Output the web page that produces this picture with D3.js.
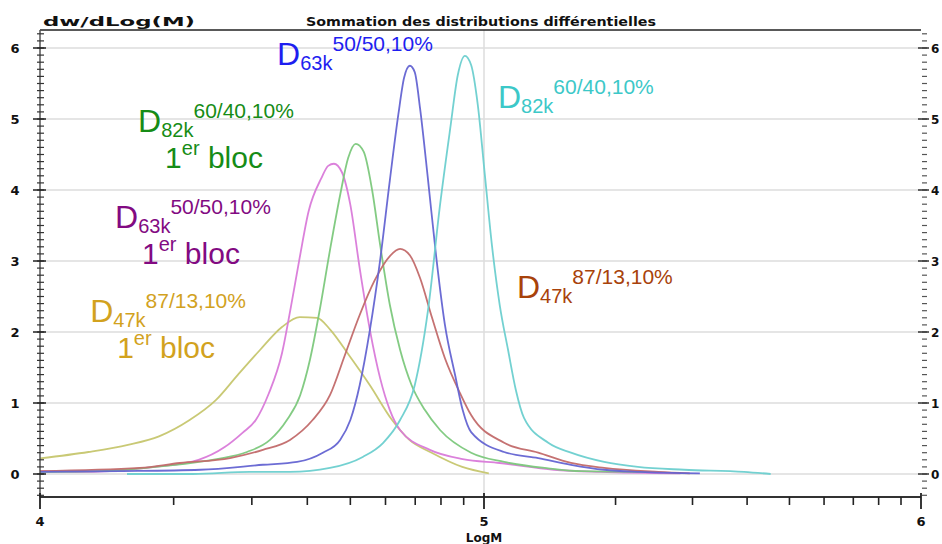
<!DOCTYPE html>
<html><head><meta charset="utf-8">
<script src="https://cdn.jsdelivr.net/npm/d3@7"></script>
<style>html,body{margin:0;padding:0;background:#fff;overflow:hidden}svg{display:block}</style>
</head><body><svg id="c" width="942" height="544"></svg>
<script>
// ---- data (x = log10 M, y = dw/dLogM) ----
const yTicks = [0,1,2,3,4,5,6];
const yTickLabels = ["0","1","2","3","4","5","6"];
const xTicks = [4,5,6];
const xTickLabels = ["4","5","6"];
const titleLeft = "dw/dLog(M)";
const titleCenter = "Sommation des distributions différentielles";
const xTitle = "LogM";

const oliveX = [4.000,4.109,4.198,4.268,4.337,4.396,4.446,4.496,4.545,4.585,4.624,4.654,4.694,4.743,4.793,4.832,4.882,4.951,5.011];
const oliveY = [0.22,0.31,0.41,0.53,0.76,1.04,1.40,1.75,2.07,2.21,2.20,2.03,1.69,1.25,0.76,0.48,0.30,0.10,0.01];
const magentaX = [4.000,4.099,4.198,4.258,4.357,4.416,4.456,4.486,4.515,4.545,4.565,4.585,4.605,4.634,4.649,4.662,4.680,4.699,4.720,4.743,4.766,4.788,4.811,4.878,4.952,5.036,5.160,5.266,5.449];
const magentaY = [0.04,0.03,0.06,0.10,0.20,0.38,0.58,0.76,1.13,1.70,2.35,3.05,3.70,4.17,4.34,4.37,4.25,3.79,2.90,2.03,1.35,0.90,0.62,0.34,0.21,0.155,0.06,0.03,0.01];
const greenX = [4.000,4.135,4.277,4.398,4.466,4.518,4.556,4.586,4.608,4.630,4.653,4.676,4.694,4.711,4.729,4.748,4.766,4.788,4.811,4.837,4.867,4.901,4.971,5.046,5.147,5.222,5.379];
const greenY = [0.03,0.04,0.11,0.21,0.31,0.48,0.76,1.11,1.61,2.31,3.15,3.93,4.45,4.65,4.54,4.00,3.23,2.38,1.75,1.25,0.90,0.62,0.30,0.17,0.08,0.04,0.03];
const redX = [4.000,4.225,4.315,4.428,4.502,4.563,4.614,4.653,4.687,4.720,4.754,4.788,4.811,4.833,4.856,4.883,4.912,4.946,4.971,5.046,5.124,5.199,5.275,5.399,5.471];
const redY = [0.04,0.085,0.155,0.225,0.34,0.48,0.76,1.11,1.68,2.24,2.73,3.07,3.17,3.08,2.76,2.20,1.63,1.14,0.83,0.44,0.30,0.155,0.085,0.03,0.01];
const blueX = [4.000,4.180,4.361,4.502,4.579,4.637,4.676,4.699,4.720,4.743,4.766,4.788,4.807,4.820,4.833,4.844,4.856,4.874,4.892,4.912,4.935,4.952,4.971,5.046,5.124,5.199,5.275,5.357,5.494];
const blueY = [0.03,0.04,0.06,0.13,0.17,0.30,0.48,0.76,1.25,2.03,3.01,4.14,5.06,5.58,5.75,5.66,5.15,4.14,3.08,2.10,1.39,0.90,0.59,0.31,0.225,0.13,0.06,0.03,0.01];
const cyanX = [4.196,4.345,4.473,4.563,4.653,4.727,4.773,4.811,4.844,4.874,4.901,4.924,4.941,4.957,4.971,4.986,5.002,5.018,5.036,5.055,5.073,5.0915,5.147,5.199,5.275,5.352,5.458,5.595,5.656];
const cyanY = [0.00,0.00,0.03,0.03,0.085,0.24,0.44,0.76,1.25,2.31,3.79,4.87,5.62,5.89,5.76,5.20,4.21,3.23,2.38,1.75,1.18,0.79,0.44,0.30,0.17,0.10,0.06,0.03,0.00];

const series = [
  {name:"D47k 1er bloc", x:oliveX, y:oliveY, color:"#c6c66e"},
  {name:"D63k 1er bloc", x:magentaX, y:magentaY, color:"#d97ad9"},
  {name:"D82k 1er bloc", x:greenX, y:greenY, color:"#7cc87c"},
  {name:"D47k 87/13", x:redX, y:redY, color:"#c26a6a"},
  {name:"D63k 50/50", x:blueX, y:blueY, color:"#6464d2"},
  {name:"D82k 60/40", x:cyanX, y:cyanY, color:"#6ccfcf"}
];

// annotation anchors in data units
const annX = [4.534, 5.032, 4.221, 4.169, 5.0755, 4.113];
const annY = [5.76, 5.155, 4.817, 3.465, 2.479, 2.141];
const annSub = ["63k","82k","82k","63k","47k","47k"];
const annSup = ["50/50,10%","60/40,10%","60/40,10%","50/50,10%","87/13,10%","87/13,10%"];
const annColor = ["#1e1ef0","#3cc8c8","#168c16","#820a82","#a8420a","#d2a21e"];
const annBloc = [false,false,true,true,false,true];

const svg = d3.select("#c");
const x = d3.scaleLinear().domain([4,5,6]).range([40,484,921]);
const y = d3.scaleLinear().domain([0,6]).range([474,48]);
const topY = 30, botY = 497;

// gridlines
svg.append("g").selectAll("line").data(yTicks).join("line")
  .attr("x1",40).attr("x2",921).attr("y1",d=>y(d)).attr("y2",d=>y(d))
  .attr("stroke","#dcdcdc").attr("stroke-width",1.5);
svg.append("line").attr("x1",x(5)).attr("x2",x(5)).attr("y1",topY).attr("y2",botY)
  .attr("stroke","#dcdcdc").attr("stroke-width",1.5);

// curves
const line = d3.line().x(d=>x(d[0])).y(d=>y(d[1])).curve(d3.curveMonotoneX);
series.forEach(s=>{
  const pts = s.x.map((v,i)=>[v,s.y[i]]);
  svg.append("path").attr("d",line(pts)).attr("fill","none")
    .attr("stroke",s.color).attr("stroke-width",1.8).attr("stroke-opacity",0.95);
});

// frame
svg.append("line").attr("x1",40).attr("x2",921).attr("y1",topY).attr("y2",topY).attr("stroke","#222").attr("stroke-width",1.5);
svg.append("line").attr("x1",40).attr("x2",921).attr("y1",botY).attr("y2",botY).attr("stroke","#333").attr("stroke-width",2);
svg.append("line").attr("x1",40).attr("x2",40).attr("y1",topY).attr("y2",botY).attr("stroke","#555").attr("stroke-width",1.5);

// y axis ticks (left and right)
const yMinor = d3.range(-3,63).map(i=>i/10).filter(v=>y(v)>topY && y(v)<botY);
svg.append("g").selectAll("line").data(yMinor).join("line")
  .attr("x1",37).attr("x2",44).attr("y1",d=>y(d)).attr("y2",d=>y(d))
  .attr("stroke","#333").attr("stroke-width",1.2);
svg.append("g").selectAll("line").data(yTicks).join("line")
  .attr("x1",33).attr("x2",46).attr("y1",d=>y(d)).attr("y2",d=>y(d))
  .attr("stroke","#222").attr("stroke-width",1.5);
svg.append("g").selectAll("line").data(yMinor).join("line")
  .attr("x1",922).attr("x2",927).attr("y1",d=>y(d)).attr("y2",d=>y(d))
  .attr("stroke","#555").attr("stroke-width",1.2);
svg.append("g").selectAll("line").data(yTicks).join("line")
  .attr("x1",918).attr("x2",929).attr("y1",d=>y(d)).attr("y2",d=>y(d))
  .attr("stroke","#333").attr("stroke-width",1.5);
svg.append("g").selectAll("text").data(yTicks).join("text")
  .attr("x",15).attr("y",d=>y(d)+5).attr("text-anchor","middle")
  .attr("font-family","DejaVu Sans").attr("font-weight","bold").attr("font-size",13)
  .attr("fill","#111").text((d,i)=>yTickLabels[i]);
svg.append("g").selectAll("text").data(yTicks).join("text")
  .attr("x",931).attr("y",d=>y(d)+5).attr("text-anchor","start")
  .attr("font-family","DejaVu Sans").attr("font-weight","bold").attr("font-size",12)
  .attr("fill","#111").text((d,i)=>yTickLabels[i]);

// x axis ticks (log minor)
const xMinor = [];
[4,5].forEach(dec=>{ for(let k=2;k<=9;k++) xMinor.push(dec+Math.log10(k)); });
svg.append("g").selectAll("line").data(xMinor).join("line")
  .attr("x1",d=>x(d)).attr("x2",d=>x(d)).attr("y1",botY).attr("y2",botY+8)
  .attr("stroke","#222").attr("stroke-width",1.6);
svg.append("g").selectAll("line").data(xTicks).join("line")
  .attr("x1",d=>x(d)).attr("x2",d=>x(d)).attr("y1",botY-4).attr("y2",botY+12)
  .attr("stroke","#222").attr("stroke-width",1.8);
svg.append("g").selectAll("text").data(xTicks).join("text")
  .attr("x",d=>x(d)).attr("y",526).attr("text-anchor","middle")
  .attr("font-family","DejaVu Sans").attr("font-weight","bold").attr("font-size",13)
  .attr("fill","#111").text((d,i)=>xTickLabels[i]);
svg.append("text").attr("x",x(5)).attr("y",542).attr("text-anchor","middle")
  .attr("font-family","DejaVu Sans").attr("font-weight","bold").attr("font-size",12)
  .attr("fill","#111").text(xTitle);

// titles
svg.append("text").attr("x",43).attr("y",26).attr("textLength",152).attr("lengthAdjust","spacingAndGlyphs")
  .attr("font-family","DejaVu Sans").attr("font-weight","bold").attr("font-size",13)
  .attr("fill","#111").text(titleLeft);
svg.append("text").attr("x",306).attr("y",26).attr("textLength",350).attr("lengthAdjust","spacingAndGlyphs")
  .attr("font-family","DejaVu Sans").attr("font-weight","bold").attr("font-size",13)
  .attr("fill","#111").text(titleCenter);

// annotations
const F = "Liberation Sans, Arial, sans-serif";
annX.forEach((ax,i)=>{
  const px = x(ax), py = y(annY[i]);
  const t = svg.append("text").attr("x",px).attr("y",py)
    .attr("font-family",F).attr("fill",annColor[i]);
  t.append("tspan").attr("font-size",32).text("D");
  t.append("tspan").attr("font-size",20).attr("dy",5).text(annSub[i]);
  t.append("tspan").attr("font-size",21).attr("dy",-19).text(annSup[i]);
  if(annBloc[i]){
    const b = svg.append("text").attr("x",px+27).attr("y",py+36)
      .attr("font-family",F).attr("fill",annColor[i]);
    b.append("tspan").attr("font-size",30).text("1");
    b.append("tspan").attr("font-size",20).attr("dy",-13).text("er");
    b.append("tspan").attr("font-size",30).attr("dy",13).text(" bloc");
  }
});
</script>
</body></html>
